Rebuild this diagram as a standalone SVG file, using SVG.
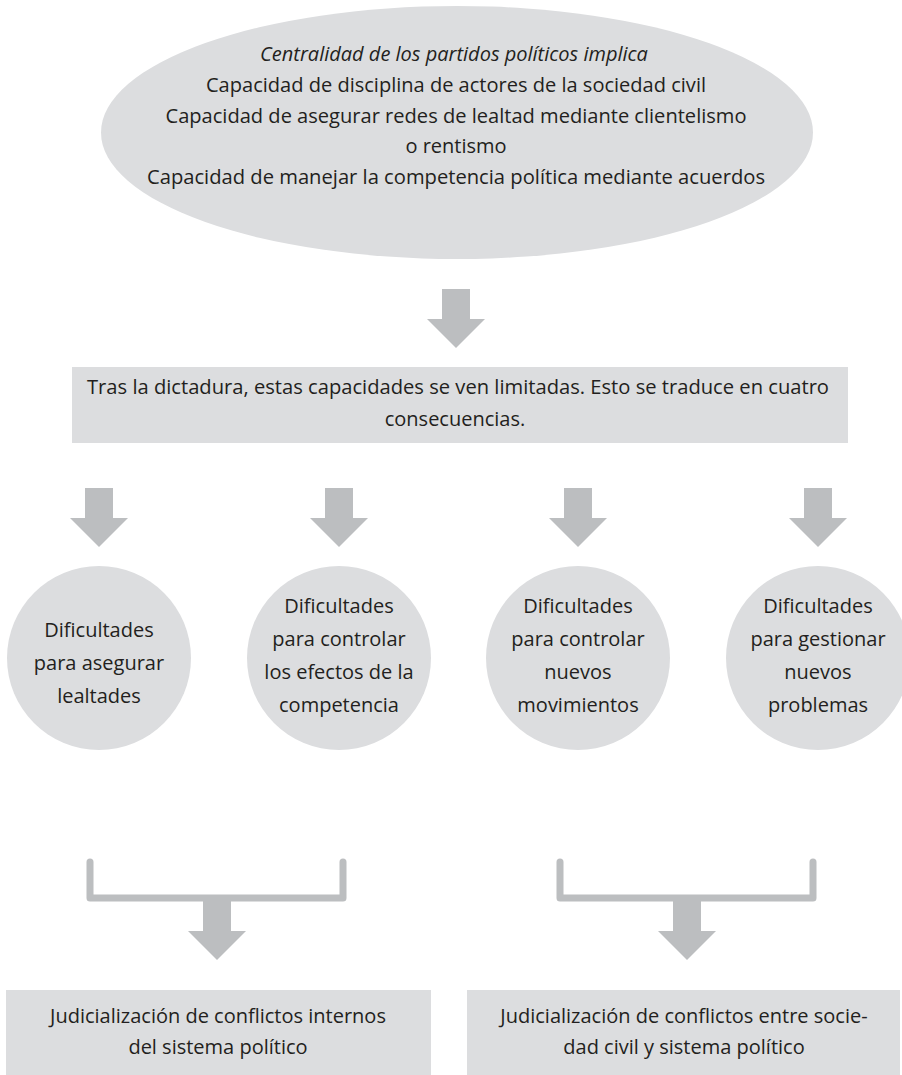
<svg xmlns="http://www.w3.org/2000/svg" width="902" height="1075" viewBox="0 0 902 1075">
<defs>
<style>
.shape{fill:#dcdddf;}
.arr{fill:#bcbec0;}
.brk{fill:none;stroke:#bcbec0;stroke-width:7;stroke-linecap:round;stroke-linejoin:round;}
text{font-family:"Open Sans","Noto Sans","Liberation Sans",sans-serif;fill:#231f20;text-anchor:middle;font-size:20px;}
.it{font-style:italic;}
</style>
<path id="dn" class="arr" d="M-14,0 H14 V30 H29 L0,59 L-29,30 H-14 Z"/>
</defs>
<rect width="902" height="1075" fill="#ffffff"/>

<g id="n-top">
<ellipse class="shape" cx="457" cy="132.5" rx="356" ry="126.5"/>
<text x="454" y="61" class="it">Centralidad de los partidos políticos implica</text>
<text x="456" y="92" textLength="500" lengthAdjust="spacingAndGlyphs">Capacidad de disciplina de actores de la sociedad civil</text>
<text x="456" y="123" textLength="581" lengthAdjust="spacingAndGlyphs">Capacidad de asegurar redes de lealtad mediante clientelismo</text>
<text x="456" y="153">o rentismo</text>
<text x="456" y="184" textLength="618" lengthAdjust="spacingAndGlyphs">Capacidad de manejar la competencia política mediante acuerdos</text>
</g>

<g id="n-tras">
<rect class="shape" x="72" y="367" width="776" height="76"/>
<text x="458" y="394" textLength="742" lengthAdjust="spacingAndGlyphs">Tras la dictadura, estas capacidades se ven limitadas. Esto se traduce en cuatro</text>
<text x="455" y="426">consecuencias.</text>
</g>

<g id="n-c1">
<circle class="shape" cx="99" cy="658" r="92"/>
<text x="99" y="637">Dificultades</text>
<text x="99" y="670">para asegurar</text>
<text x="99" y="703">lealtades</text>
</g>
<g id="n-c2">
<circle class="shape" cx="339" cy="658" r="92"/>
<text x="339" y="613">Dificultades</text>
<text x="339" y="646">para controlar</text>
<text x="339" y="679">los efectos de la</text>
<text x="339" y="712">competencia</text>
</g>
<g id="n-c3">
<circle class="shape" cx="578" cy="658" r="92"/>
<text x="578" y="613">Dificultades</text>
<text x="578" y="646">para controlar</text>
<text x="578" y="679">nuevos</text>
<text x="578" y="712">movimientos</text>
</g>
<g id="n-c4">
<circle class="shape" cx="818" cy="658" r="92"/>
<text x="818" y="613">Dificultades</text>
<text x="818" y="646">para gestionar</text>
<text x="818" y="679">nuevos</text>
<text x="818" y="712">problemas</text>
</g>

<g id="n-b1">
<rect class="shape" x="6" y="990" width="425" height="85"/>
<text x="218" y="1023">Judicialización de conflictos internos</text>
<text x="218" y="1054">del sistema político</text>
</g>
<g id="n-b2">
<rect class="shape" x="467" y="990" width="433" height="85"/>
<text x="684" y="1023">Judicialización de conflictos entre socie-</text>
<text x="684" y="1054">dad civil y sistema político</text>
</g>

<g id="connectors">
<use href="#dn" x="456" y="289"/>
<use href="#dn" x="99" y="488"/>
<use href="#dn" x="339" y="488"/>
<use href="#dn" x="578" y="488"/>
<use href="#dn" x="818" y="488"/>
<path class="brk" d="M90,862 V898 H343 V862"/>
<path class="brk" d="M560,862 V898 H813 V862"/>
<use href="#dn" x="217" y="901"/>
<use href="#dn" x="687" y="901"/>
</g>
</svg>
